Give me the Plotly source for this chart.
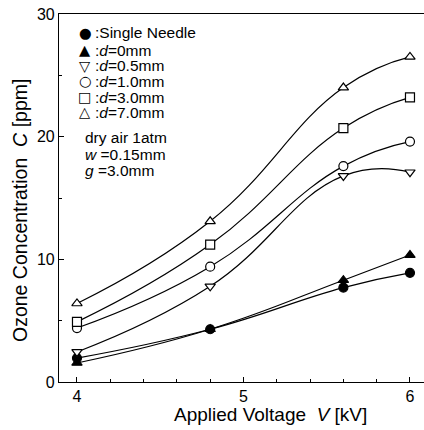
import plotly.graph_objects as go

voltage = [4.0, 4.8, 5.6, 6.0]
single_needle = [1.95, 4.3, 7.7, 8.9]
d_0mm = [1.55, 4.3, 8.3, 10.35]
d_05mm = [2.45, 7.8, 16.8, 17.1]
d_10mm = [4.4, 9.4, 17.6, 19.6]
d_30mm = [4.9, 11.2, 20.7, 23.2]
d_70mm = [6.4, 13.1, 24.0, 26.5]

series_names = ["Single Needle", "d=0mm", "d=0.5mm", "d=1.0mm", "d=3.0mm", "d=7.0mm"]
legend_labels = [":Single Needle", ":<i>d</i>=0mm", ":<i>d</i>=0.5mm",
                 ":<i>d</i>=1.0mm", ":<i>d</i>=3.0mm", ":<i>d</i>=7.0mm"]
legend_glyphs = ["●", "▲", "▽", "○", "□", "△"]
condition_lines = ["dry air 1atm", "<i>w</i> =0.15mm", "<i>g</i> =3.0mm"]
x_title = "Applied Voltage  <i>V</i> [kV]"
y_title = "Ozone Concentration  <i>C</i> [ppm]"

series = [single_needle, d_0mm, d_05mm, d_10mm, d_30mm, d_70mm]
symbols = ["circle", "triangle-up", "triangle-down", "circle", "square", "triangle-up"]
fills = ["black", "black", "white", "white", "white", "white"]

FONT = "Liberation Sans, Arial, Helvetica, sans-serif"
W, H = 424, 430
L, R, T, B = 59, 0, 14, 48
PW, PH = W - L - R, H - T - B

def px_x(px):
    return (px - L) / PW

def px_y(py):
    return 1 - (py - T) / PH

fig = go.Figure()
for name, vals, sym, fc in zip(series_names, series, symbols, fills):
    fig.add_trace(go.Scatter(
        x=voltage, y=vals, name=name, mode="lines+markers",
        line=dict(color="black", width=1.2, shape="spline", smoothing=1.3),
        marker=dict(symbol=sym, size=9, color=fc, line=dict(color="black", width=1.2)),
        showlegend=False,
    ))

annotations = []
legend_rows = [33, 50.5, 66, 81.5, 97, 112.5]
for glyph, label, row in zip(legend_glyphs, legend_labels, legend_rows):
    annotations.append(dict(x=px_x(85), y=px_y(row - 0.5), xref="paper", yref="paper",
                            text=glyph, showarrow=False, xanchor="center", yanchor="middle",
                            font=dict(family="DejaVu Sans", size=14.5, color="black")))
    annotations.append(dict(x=px_x(93), y=px_y(row), xref="paper", yref="paper",
                            text=label, showarrow=False, xanchor="left", yanchor="middle",
                            font=dict(family=FONT, size=15.5, color="black")))
for line, row in zip(condition_lines, [138, 154, 170]):
    annotations.append(dict(x=px_x(83), y=px_y(row), xref="paper", yref="paper",
                            text=line, showarrow=False, xanchor="left", yanchor="middle",
                            font=dict(family=FONT, size=15.5, color="black")))
annotations.append(dict(x=px_x(270), y=px_y(414), xref="paper", yref="paper",
                        text=x_title, showarrow=False, xanchor="center", yanchor="middle",
                        font=dict(family=FONT, size=19, color="black")))
annotations.append(dict(x=px_x(20), y=px_y(211), xref="paper", yref="paper",
                        text=y_title, showarrow=False, xanchor="center", yanchor="middle",
                        textangle=-90,
                        font=dict(family=FONT, size=19.5, color="black")))

fig.update_layout(
    width=W, height=H,
    margin=dict(l=L, r=R, t=T, b=B, pad=0),
    paper_bgcolor="white", plot_bgcolor="white",
    font=dict(family=FONT, size=16, color="black"),
    annotations=annotations,
    showlegend=False,
)
fig.update_xaxes(
    range=[3.892, 3.892 + PW / 166.5],
    tickvals=[4, 5, 6], ticks="inside", ticklen=5, tickwidth=1, tickcolor="black",
    minor=dict(dtick=0.2, tick0=4, ticks="inside", ticklen=3, tickcolor="black", showgrid=False),
    showline=True, linecolor="black", linewidth=1.2, mirror=True,
    showgrid=False, zeroline=False,
    tickfont=dict(size=16),
    automargin=False,
)
fig.update_yaxes(
    range=[0, 30],
    tickvals=[0, 10, 20, 30], ticks="inside", ticklen=5, tickwidth=1, tickcolor="black",
    minor=dict(dtick=5, tick0=0, ticks="inside", ticklen=3, tickcolor="black", showgrid=False),
    showline=True, linecolor="black", linewidth=1.2,
    showgrid=False, zeroline=False,
    tickfont=dict(size=16),
    automargin=False,
)

fig.write_html("out.html", config={"displayModeBar": False},
               post_script="document.body.style.margin='0';")
